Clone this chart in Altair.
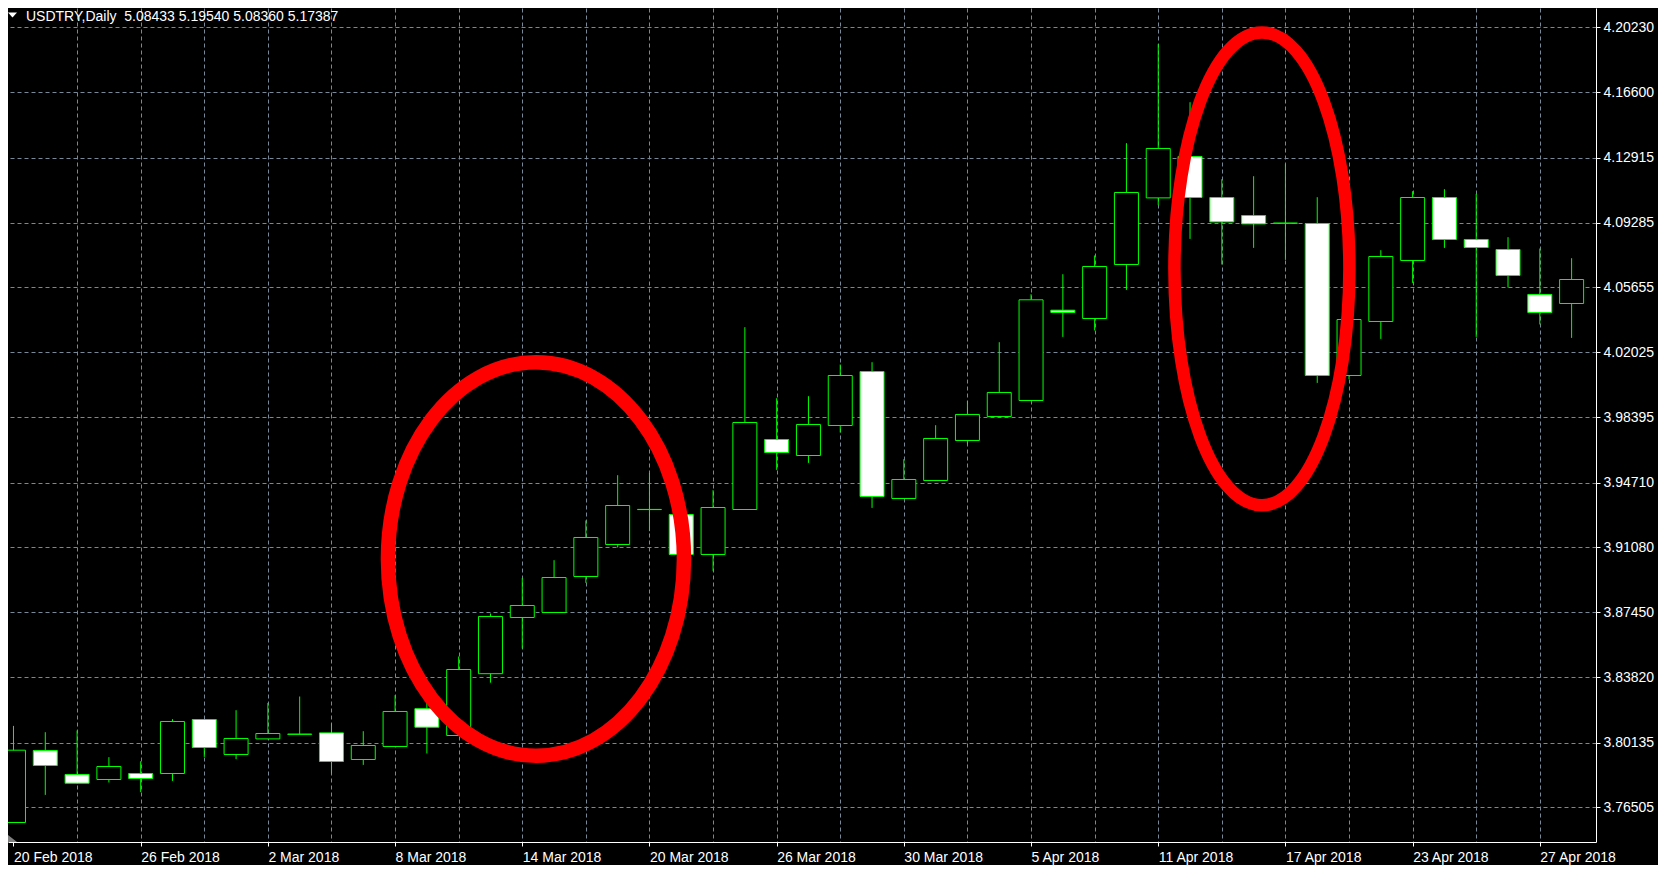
import altair as alt
import pandas as pd

# ---- data (MT4 style USDTRY daily candles) ----
opens = [3.75664, 3.79700, 3.78355, 3.78075, 3.78411, 3.78411, 3.81438, 3.79476, 3.80351, 3.80605,
         3.80687, 3.79196, 3.79925, 3.82044, 3.80541, 3.84006, 3.87156, 3.87436, 3.89454, 3.91248,
         3.93205, 3.92930, 3.90688, 3.93210, 3.97134, 3.96237, 3.97919, 4.00946, 3.93827, 3.94836,
         3.97078, 3.98424, 3.99320, 4.04383, 4.03917, 4.06944, 4.10678, 4.12999, 4.10700, 4.09691,
         4.09255, 4.09243, 4.00722, 4.03749, 4.07169, 4.10700, 4.08346, 4.07785, 4.05263, 4.04758]
highs = [3.81079, 3.80726, 3.80821, 3.79325, 3.79100, 3.81455, 3.81445, 3.81959, 3.82369, 3.82727,
         3.81214, 3.80782, 3.82800, 3.82688, 3.84970, 3.87380, 3.89359, 3.90368, 3.92594, 3.95133,
         3.95262, 3.92945, 3.94292, 4.03429, 3.99449, 3.99562, 4.01339, 4.01468, 3.96030, 3.97936,
         3.99298, 4.02589, 4.05279, 4.06400, 4.07449, 4.13744, 4.19294, 4.16042, 4.11726, 4.11894,
         4.12567, 4.10717, 4.04383, 4.07746, 4.11053, 4.11165, 4.10902, 4.08475, 4.07841, 4.07298]
lows = [3.75650, 3.77211, 3.77850, 3.77906, 3.77363, 3.77996, 3.79342, 3.79213, 3.80330, 3.80595,
        3.78411, 3.78893, 3.79910, 3.79532, 3.80520, 3.83501, 3.85418, 3.87420, 3.89095, 3.91080,
        3.91994, 3.90670, 3.89768, 3.93195, 3.95430, 3.95823, 3.97527, 3.93300, 3.93810, 3.94820,
        3.96854, 3.98405, 3.99300, 4.02886, 4.03245, 4.05521, 4.10285, 4.08379, 4.06944, 4.07875,
        4.07202, 4.00307, 4.00515, 4.02774, 4.05913, 4.07875, 4.02886, 4.05655, 4.03581, 4.02830]
closes = [3.79717, 3.78859, 3.77867, 3.78803, 3.78131, 3.81326, 3.79868, 3.80373, 3.80653, 3.80620,
          3.79084, 3.79981, 3.81887, 3.81006, 3.84241, 3.87212, 3.87829, 3.89398, 3.91641, 3.93434,
          3.93215, 3.90688, 3.93322, 3.98087, 3.96405, 3.97975, 4.00722, 3.93939, 3.94892, 3.97190,
          3.98536, 3.99769, 4.04965, 4.04254, 4.06832, 4.10980, 4.13447, 4.10700, 4.09332, 4.09220,
          4.09265, 4.00722, 4.03861, 4.07393, 4.10700, 4.08346, 4.07897, 4.06328, 4.04254, 4.06103]
candle_idx = list(range(len(opens)))

date_ticks = [0, 4, 8, 12, 16, 20, 24, 28, 32, 36, 40, 44, 48]
date_labels = ["20 Feb 2018", "26 Feb 2018", "2 Mar 2018", "8 Mar 2018", "14 Mar 2018",
               "20 Mar 2018", "26 Mar 2018", "30 Mar 2018", "5 Apr 2018", "11 Apr 2018",
               "17 Apr 2018", "23 Apr 2018", "27 Apr 2018"]
price_ticks = [4.20230, 4.16600, 4.12915, 4.09285, 4.05655, 4.02025, 3.98395,
               3.94710, 3.91080, 3.87450, 3.83820, 3.80135, 3.76505]

# centres of the two red hand-drawn ellipses (candle index, price)
ring_idx = [16.43, 39.26]
ring_price = [3.90435, 4.06703]

header = ["USDTRY,Daily\u00a0 5.08433 5.19540 5.08360 5.17387"]

# ---- styling ----
GREEN = "#00ff00"
GRID = "#778899"
FONT = "Liberation Sans"

candles = pd.DataFrame({"i": candle_idx, "open": opens, "high": highs,
                        "low": lows, "close": closes})
rings = pd.DataFrame({"i": ring_idx, "p": ring_price})
head = pd.DataFrame({"t": header})
one = pd.DataFrame({"k": [0]})

label_js = "[" + ",".join("'%s'" % s for s in date_labels) + "]"
grid_vals = list(range(0, 50, 2))

xscale = alt.Scale(domain=[-0.015625, 49.609375], nice=False, zero=False)
yscale = alt.Scale(domain=[3.74571, 4.21323], nice=False, zero=False)

xaxis = alt.Axis(
    values=grid_vals,
    labelExpr="datum.value %% 4 === 0 ? %s[datum.value / 4] : ''" % label_js,
    tickOpacity={"condition": {"test": "datum.value % 4 === 0", "value": 1}, "value": 0},
    gridOpacity={"condition": {"test": "datum.value === 0", "value": 0}, "value": 1},
    grid=True, gridColor=GRID, gridDash=[4, 3], gridWidth=1,
    tickColor="white", tickSize=4, tickWidth=1,
    domainColor="white", domainWidth=1,
    labelColor="white", labelFont=FONT, labelFontSize=14,
    labelAlign="left", labelBaseline="alphabetic", labelPadding=15,
    labelOverlap=False, labelFlush=False, labelBound=False,
    title=None,
)
yaxis = alt.Axis(
    orient="right", values=price_ticks, format=".5f",
    grid=True, gridColor=GRID, gridDash=[4, 3], gridWidth=1,
    tickColor="white", tickSize=4, tickWidth=1,
    domainColor="white", domainWidth=1,
    labelColor="white", labelFont=FONT, labelFontSize=14, labelPadding=3,
    labelOverlap=False, labelFlush=False, labelBound=False,
    title=None,
)

base = alt.Chart(candles)

wicks = base.mark_rule(color=GREEN, strokeWidth=1, clip=True).encode(
    x=alt.X("i:Q", scale=xscale, axis=xaxis),
    y=alt.Y("low:Q", scale=yscale, axis=yaxis),
    y2="high:Q",
)

bodies = base.mark_bar(width=24, stroke=GREEN, strokeWidth=1, clip=True, opacity=1).encode(
    x=alt.X("i:Q", scale=xscale, axis=xaxis),
    y=alt.Y("open:Q", scale=yscale, axis=yaxis),
    y2="close:Q",
    fill=alt.condition("datum.close < datum.open", alt.value("white"), alt.value("black")),
)


def ellipse_path(a):
    k = 0.5523
    return ("M0,-1 C{ka:.4f},-1 {a:.4f},{mk:.4f} {a:.4f},0 "
            "C{a:.4f},{k:.4f} {ka:.4f},1 0,1 "
            "C{mka:.4f},1 {ma:.4f},{k:.4f} {ma:.4f},0 "
            "C{ma:.4f},{mk:.4f} {mka:.4f},-1 0,-1 Z").format(
        a=a, ka=k * a, mk=-k, k=k, mka=-k * a, ma=-a)


ring_layers = []
for n, (ratio, ry, sw) in enumerate([(0.7524, 196.7, 14.5), (0.3701, 236.4, 12.5)]):
    ring_layers.append(
        alt.Chart(rings).transform_filter("datum.i == %s" % ring_idx[n])
        .mark_point(shape=ellipse_path(ratio), size=(2 * ry) ** 2, filled=False,
                    stroke="#ff0000", strokeWidth=sw, opacity=1, strokeOpacity=1)
        .encode(x=alt.X("i:Q", scale=xscale, axis=xaxis),
                y=alt.Y("p:Q", scale=yscale, axis=yaxis))
    )

header_text = alt.Chart(head).mark_text(
    align="left", baseline="alphabetic", font=FONT, fontSize=14, color="white",
).encode(text="t:N", x=alt.value(18), y=alt.value(13))

menu_tri = alt.Chart(one).mark_point(
    shape="M-1,-0.55 L1,-0.55 L0,0.55 Z", size=81, filled=True,
    color="white", opacity=1, strokeWidth=0,
).encode(x=alt.value(4.5), y=alt.value(7))

shift_tri = alt.Chart(one).mark_point(
    shape="M-1,-0.78 L-1,0.78 L1,0.78 Z", size=81, filled=True,
    color="#808080", opacity=1, strokeWidth=0,
).encode(x=alt.value(4.5), y=alt.value(830.5))

chart = alt.layer(wicks, bodies, *ring_layers, header_text, menu_tri, shift_tri).properties(
    width=1588, height=834,
    autosize=alt.AutoSizeParams(type="none"),
    padding={"left": 0, "top": 0, "right": 62, "bottom": 23},
    background="black",
).configure_view(stroke=None)

chart.save("out.html", embed_options={"renderer": "svg", "actions": False})
